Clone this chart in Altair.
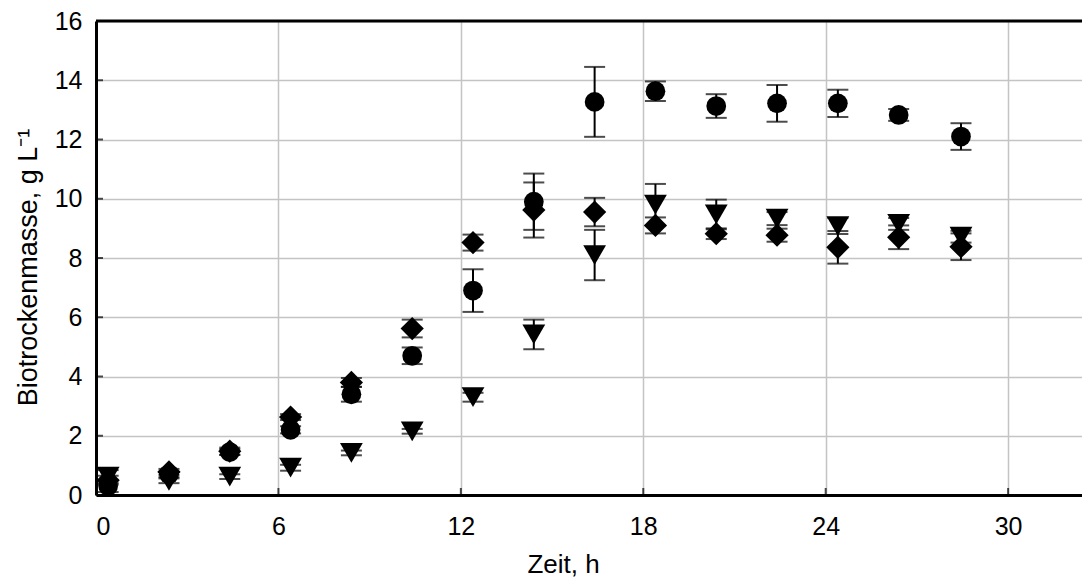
import altair as alt
import pandas as pd

# time points (h)
zeit = [0.4, 2.4, 4.4, 6.4, 8.4, 10.4, 12.4, 14.4, 16.4, 18.4, 20.4, 22.4, 24.4, 26.4, 28.45]

# series A (circles)
kreis = [0.3, 0.7, 1.45, 2.2, 3.4, 4.7, 6.9, 9.9, 13.27, 13.63, 13.13, 13.22, 13.22, 12.83, 12.1]
kreis_sd = [0.2, 0.1, 0.1, 0.12, 0.25, 0.28, 0.72, 0.95, 1.18, 0.33, 0.4, 0.62, 0.46, 0.2, 0.45]

# series B (diamonds)
raute = [0.5, 0.78, 1.48, 2.63, 3.8, 5.62, 8.52, 9.62, 9.55, 9.1, 8.82, 8.77, 8.36, 8.7, 8.38]
raute_sd = [0.15, 0.1, 0.12, 0.1, 0.15, 0.3, 0.27, 0.93, 0.48, 0.27, 0.18, 0.22, 0.55, 0.4, 0.45]

# series C (down triangles)
dreieck = [0.62, 0.48, 0.62, 0.92, 1.42, 2.15, 3.3, 5.42, 8.1, 9.8, 9.47, 9.33, 9.08, 9.15, 8.72]
dreieck_sd = [0.22, 0.08, 0.08, 0.1, 0.08, 0.08, 0.15, 0.5, 0.85, 0.7, 0.5, 0.22, 0.27, 0.2, 0.2]

y_ticks = [0, 2, 4, 6, 8, 10, 12, 14, 16]
x_ticks = [0, 6, 12, 18, 24, 30]

rows = []
for name, vals, sds in [("A", kreis, kreis_sd), ("B", raute, raute_sd), ("C", dreieck, dreieck_sd)]:
    for t, v, s in zip(zeit, vals, sds):
        rows.append({"serie": name, "zeit": t, "wert": v, "lo": v - s, "hi": v + s})
df = pd.DataFrame(rows)

W, H = 986, 474
XMAX = 32.43
FONT = "Liberation Sans"
FS = 25

xscale = alt.Scale(domain=[0, XMAX], nice=False, zero=False)
yscale = alt.Scale(domain=[0, 16], nice=False)

xaxis = alt.Axis(values=x_ticks, title="Zeit, h", grid=True, gridColor="#c4c4c4", gridWidth=1.5,
                 ticks=False, domainColor="black", domainWidth=3, labelFont=FONT, labelFontSize=FS,
                 labelColor="black", labelPadding=19, titleFont=FONT, titleFontSize=26,
                 titleFontWeight="normal", titleColor="black", titlePadding=12, titleX=467)
yaxis = alt.Axis(values=y_ticks, title="Biotrockenmasse, g L\u207b\u00b9", grid=True, gridColor="#c4c4c4",
                 gridWidth=1.5, ticks=False, domainColor="black", domainWidth=3, labelFont=FONT,
                 labelFontSize=FS, labelColor="black", labelPadding=14, titleFont=FONT, titleFontSize=27,
                 titleFontWeight="normal", titleColor="black", titlePadding=12, titleY=246)

base = alt.Chart(df)

bars = base.mark_rule(color="black", strokeWidth=2).encode(
    x=alt.X("zeit:Q", scale=xscale, axis=xaxis),
    y=alt.Y("lo:Q", scale=yscale, axis=yaxis),
    y2="hi:Q",
)
cap_lo = base.mark_tick(color="black", thickness=2, size=21, orient="horizontal").encode(
    x=alt.X("zeit:Q", scale=xscale), y=alt.Y("lo:Q", scale=yscale))
cap_hi = base.mark_tick(color="black", thickness=2, size=21, orient="horizontal").encode(
    x=alt.X("zeit:Q", scale=xscale), y=alt.Y("hi:Q", scale=yscale))


def punkte(serie, shape, size):
    return base.transform_filter(alt.datum.serie == serie).mark_point(
        filled=True, color="black", opacity=1, shape=shape, size=size).encode(
        x=alt.X("zeit:Q", scale=xscale),
        y=alt.Y("wert:Q", scale=yscale),
    )


p_kreis = punkte("A", "circle", 390)
p_raute = punkte("B", "diamond", 540)
p_dreieck = punkte("C", "triangle-down", 520)

top_line = alt.Chart(pd.DataFrame({"a": [0], "b": [XMAX], "c": [16]})).mark_rule(
    color="black", strokeWidth=3).encode(
    x=alt.X("a:Q", scale=xscale), x2="b:Q", y=alt.Y("c:Q", scale=yscale))

ytick_marks = alt.Chart(pd.DataFrame({"v": y_ticks})).mark_tick(
    color="black", thickness=2, size=7, orient="horizontal").encode(
    y=alt.Y("v:Q", scale=yscale), x=alt.value(3.5))
xtick_marks = alt.Chart(pd.DataFrame({"v": x_ticks})).mark_tick(
    color="black", thickness=2, size=7, orient="vertical").encode(
    x=alt.X("v:Q", scale=xscale), y=alt.value(H - 3.5))

chart = alt.layer(bars, cap_lo, cap_hi, p_dreieck, p_kreis, p_raute, top_line,
                  ytick_marks, xtick_marks).properties(
    width=W, height=H,
    autosize=alt.AutoSizeParams(type="none"),
    padding={"left": 88, "top": 13, "right": 0, "bottom": 83},
).configure_view(stroke=None).configure(background="white")

chart.save("out.html", embed_options={"renderer": "svg", "actions": False})
